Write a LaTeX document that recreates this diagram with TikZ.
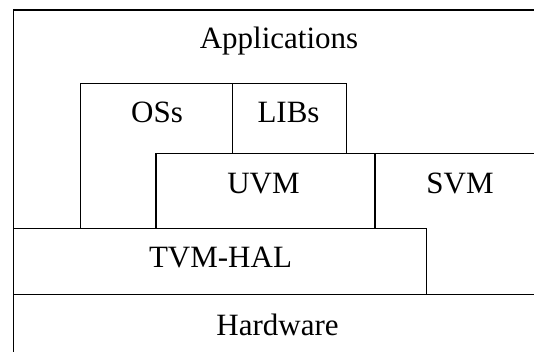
\documentclass[tikz,border=0pt]{standalone}
\usepackage{fontspec}
\setmainfont{Liberation Serif}
\begin{document}
\begin{tikzpicture}[x=1pt,y=-1pt,
  layer/.style={line width=1.5pt,line cap=rect},
  lbl/.style={anchor=base,inner sep=0pt,font=\fontsize{31}{36}\selectfont}]
\useasboundingbox (0,0) rectangle (534,352);
% outer frame (open to the right and bottom)
\draw[layer] (13.5,352) -- (13.5,10) -- (534,10);
% OSs / LIBs block
\draw[layer] (80.7,228.5) -- (80.7,83.3) -- (346.5,83.3) -- (346.5,153.3);
\draw[layer] (232.7,83.3) -- (232.7,153.3);
% UVM / SVM
\draw[layer] (156,228.5) -- (156,153.3) -- (534,153.3);
\draw[layer] (375,153.3) -- (375,228.5);
% TVM-HAL
\draw[layer] (13.5,228.5) -- (426.7,228.5) -- (426.7,294.5);
% Hardware
\draw[layer] (13.5,294.5) -- (534,294.5);
% labels
\node[lbl] (app) at (279,49) {Applications};
\node[lbl] (oss) at (157,123) {OSs};
\node[lbl] (libs) at (288.5,123) {LIBs};
\node[lbl] (uvm) at (263.5,194) {UVM};
\node[lbl] (svm) at (460,194) {SVM};
\node[lbl] (tvm) at (220.5,267) {TVM-HAL};
\node[lbl] (hw) at (277.5,335) {Hardware};
\end{tikzpicture}
\end{document}
